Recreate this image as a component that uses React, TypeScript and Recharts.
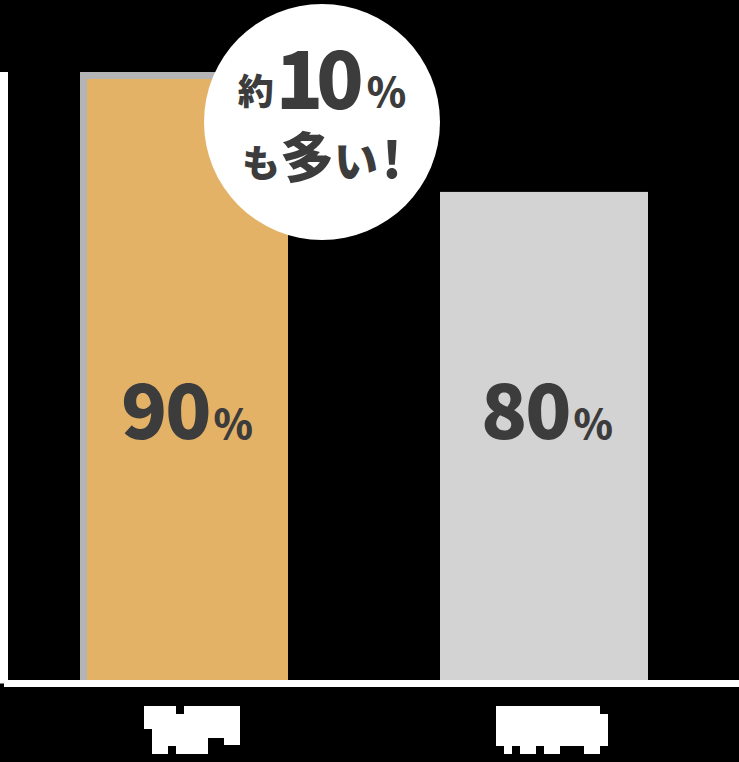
import React from 'react'
import { BarChart, Bar, XAxis, YAxis, LabelList } from 'recharts'

// two bars, the category names are masked in the source image
const categories = ['A', 'B']
const values = [90, 80]
const unit = '%'
const colors = ['#e3b267', '#d3d3d3']
const shadowColor = '#b4b4b4'
const calloutTop = ['約', '10', '%']
const calloutBottom = ['も', '多', 'い', '!']

const data = categories.map((c, i) => ({ name: c, value: values[i], color: colors[i] }))

const FONT = '"Noto Sans CJK JP", "Noto Sans", sans-serif'
const INK = '#3c3c3c'

function BarShape(props: any) {
  const { x, y, width, index, payload } = props
  const height = props.height - 3.5
  if (index === 0) {
    return (
      <g>
        <rect x={x} y={y} width={width - 7} height={height} fill={shadowColor} />
        <rect x={x + 7} y={y + 7} width={width - 7} height={height - 7} fill={payload.color} />
      </g>
    )
  }
  return <rect x={x} y={y} width={width} height={height} fill={payload.color} />
}

function ValueLabel(props: any) {
  const { x, y, width, height, value } = props
  return (
    <text x={x + width / 2 + 3} y={y + height - 245} textAnchor="middle" fill={INK}
      fontFamily={FONT} fontWeight={900}>
      <tspan fontSize={76} letterSpacing={-2}>{value}</tspan>
      <tspan fontSize={40} dx={4}>{unit}</tspan>
    </text>
  )
}

// masked label blocks (white), drawn relative to the axis line
const blocks: number[][][] = [
  [[-40, 21, 32, 8], [0, 21, 56, 8], [-40, 29, 96, 15], [-32, 44, 88, 9], [-32, 53, 56, 8], [40, 44, 16, 16], [-32, 61, 16, 8], [-8, 61, 32, 8]],
  [[-48, 21, 104, 40], [56, 29, 8, 32], [-40, 61, 8, 8], [-24, 61, 16, 8], [0, 61, 16, 8], [40, 61, 16, 8]],
]

function MaskTick(props: any) {
  const { x, y, index } = props
  const rects = blocks[index] || []
  return (
    <g>
      {rects.map((r, i) => (
        <rect key={i} x={x + r[0]} y={y + r[1] - 0.5} width={r[2]} height={r[3]} fill="#fff" />
      ))}
    </g>
  )
}

function Callout() {
  const cx = 322
  const cy = 122
  return (
    <svg width={739} height={762} style={{ position: 'absolute', left: 0, top: 0, pointerEvents: 'none' }}>
      <circle cx={cx} cy={cy} r={118} fill="#fff" />
      <text x={cx} y={108} textAnchor="middle" fill={INK} fontFamily={FONT} fontWeight={900}>
        <tspan fontSize={36} dy={-3}>{calloutTop[0]}</tspan>
        <tspan fontSize={78} dy={4} letterSpacing={-7} dx={2}>{calloutTop[1]}</tspan>
        <tspan fontSize={40} dx={10} dy={-2}>{calloutTop[2]}</tspan>
      </text>
      <text x={cx} y={178} textAnchor="middle" fill={INK} fontFamily={FONT} fontWeight={900}>
        <tspan fontSize={38} dy={-1}>{calloutBottom[0]}</tspan>
        <tspan fontSize={54} dy={1}>{calloutBottom[1]}</tspan>
        <tspan fontSize={44}>{calloutBottom[2]}</tspan>
        <tspan fontSize={50} dx={4}>{calloutBottom[3]}</tspan>
      </text>
    </svg>
  )
}

export default function App() {
  return (
    <div style={{ position: 'fixed', left: 0, top: 0, width: 739, height: 762, background: '#000', overflow: 'hidden' }}>
      <BarChart width={739} height={762} data={data}
        margin={{ top: 72, right: 0, left: 0, bottom: 0.5 }}>
        <YAxis width={4} domain={[39, 90]} allowDataOverflow tick={false} tickLine={false}
          axisLine={{ stroke: '#fff', strokeWidth: 8 }} />
        <XAxis dataKey="name" height={78} padding={{ left: 0, right: 15 }} tickLine={false} tickSize={0}
          axisLine={{ stroke: '#fff', strokeWidth: 7 }} tick={<MaskTick />} interval={0} />
        <Bar dataKey="value" barSize={208} shape={<BarShape />} isAnimationActive={false}>
          <LabelList dataKey="value" content={<ValueLabel />} />
        </Bar>
      </BarChart>
      <Callout />
    </div>
  )
}
